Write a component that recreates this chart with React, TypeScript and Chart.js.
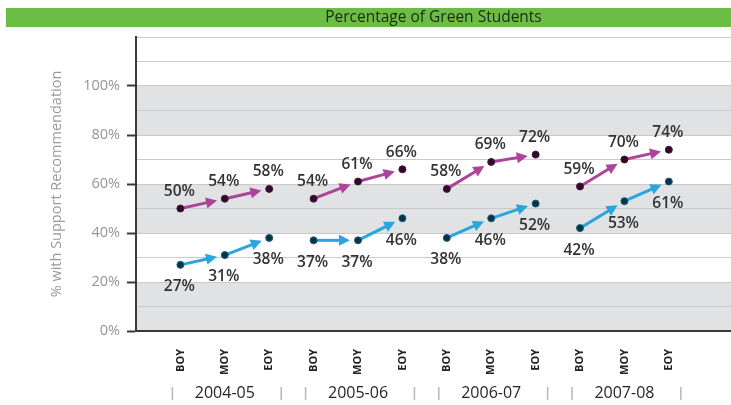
import React, { useEffect, useRef } from 'react';
import { Chart, registerables } from 'chart.js';

Chart.register(...registerables);

const chartTitle = 'Percentage of Green Students';
const yAxisTitle = '% with Support Recommendation';
const periods = ['BOY', 'MOY', 'EOY', 'BOY', 'MOY', 'EOY', 'BOY', 'MOY', 'EOY', 'BOY', 'MOY', 'EOY'];
const years = ['2004-05', '2005-06', '2006-07', '2007-08'];
const pinkValues = [50, 54, 58, 54, 61, 66, 58, 69, 72, 59, 70, 74];
const blueValues = [27, 31, 38, 37, 37, 46, 38, 46, 52, 42, 53, 61];
const yLabeledTicks = [0, 20, 40, 60, 80, 100];
const grayBands = [[0, 20], [40, 60], [80, 100]];

const PINK = '#ad4499';
const BLUE = '#29a6de';
const FONT = "'Open Sans', 'Noto Sans', sans-serif";

const backgroundPlugin = {
  id: 'bgBands',
  beforeDraw(chart: any) {
    const { ctx, chartArea, scales } = chart;
    ctx.save();
    ctx.fillStyle = '#ffffff';
    ctx.fillRect(0, 0, chart.width, chart.height);
    // title bar
    ctx.fillStyle = '#6bbd45';
    ctx.fillRect(6, 8, chart.width - 6, 19);
    ctx.fillStyle = '#1d2a19';
    ctx.font = `15.5px ${FONT}`;
    ctx.textAlign = 'center';
    ctx.textBaseline = 'middle';
    ctx.fillText(chartTitle, (chartArea.left + chartArea.right) / 2, 18);
    // bands
    const y = scales.y;
    ctx.fillStyle = '#e1e2e4';
    grayBands.forEach(([a, b]) => {
      const top = y.getPixelForValue(b);
      const bot = y.getPixelForValue(a);
      ctx.fillRect(chartArea.left, top, chartArea.right - chartArea.left, bot - top);
    });
    ctx.restore();
  },
};

const arrowPlugin = {
  id: 'arrows',
  beforeDatasetsDraw(chart: any) {
    const { ctx } = chart;
    chart.data.datasets.forEach((ds: any, di: number) => {
      const meta = chart.getDatasetMeta(di);
      const pts = meta.data;
      ctx.save();
      ctx.strokeStyle = ds.arrowColor;
      ctx.fillStyle = ds.arrowColor;
      ctx.lineWidth = 3;
      for (let i = 0; i < pts.length - 1; i++) {
        if (i % 3 === 2) continue;
        const p0 = pts[i];
        const p1 = pts[i + 1];
        const dx = p1.x - p0.x;
        const dy = p1.y - p0.y;
        const d = Math.hypot(dx, dy);
        const ux = dx / d;
        const uy = dy / d;
        const tipX = p1.x - ux * 8;
        const tipY = p1.y - uy * 8;
        const headLen = 11;
        const half = 5.5;
        const bx = tipX - ux * headLen;
        const by = tipY - uy * headLen;
        ctx.beginPath();
        ctx.moveTo(p0.x, p0.y);
        ctx.lineTo(bx + ux * 2, by + uy * 2);
        ctx.stroke();
        ctx.beginPath();
        ctx.moveTo(tipX, tipY);
        ctx.lineTo(bx - uy * half, by + ux * half);
        ctx.lineTo(bx + uy * half, by - ux * half);
        ctx.closePath();
        ctx.fill();
      }
      ctx.restore();
    });
  },
};

const labelPlugin = {
  id: 'valueLabels',
  afterDatasetsDraw(chart: any) {
    const { ctx } = chart;
    ctx.save();
    ctx.font = `600 15.5px ${FONT}`;
    ctx.fillStyle = '#333333';
    ctx.textAlign = 'center';
    ctx.textBaseline = 'middle';
    chart.data.datasets.forEach((ds: any, di: number) => {
      const meta = chart.getDatasetMeta(di);
      meta.data.forEach((p: any, i: number) => {
        const v = ds.data[i].y;
        const off = ds.labelBelow ? 22 : -17;
        ctx.fillText(`${v}%`, p.x - 1, p.y + off);
      });
    });
    ctx.restore();
  },
  afterDraw(chart: any) {
    const { ctx, scales } = chart;
    const x = scales.x;
    ctx.save();
    ctx.font = `500 16px ${FONT}`;
    ctx.fillStyle = '#262626';
    ctx.textAlign = 'center';
    ctx.textBaseline = 'middle';
    years.forEach((yr, g) => {
      const cx = x.getPixelForValue(g * 3 + 1);
      ctx.fillText(yr, cx, 393);
      const l = x.getPixelForValue(g * 3) - 8;
      const r = x.getPixelForValue(g * 3 + 2) + 12;
      ctx.strokeStyle = '#b8b8b8';
      ctx.lineWidth = 1.5;
      ctx.beginPath();
      ctx.moveTo(l, 387);
      ctx.lineTo(l, 400);
      ctx.moveTo(r, 387);
      ctx.lineTo(r, 400);
      ctx.stroke();
    });
    ctx.restore();
  },
};

export default function App() {
  const ref = useRef<HTMLCanvasElement | null>(null);

  useEffect(() => {
    if (!ref.current) return;
    const chart = new Chart(ref.current, {
      type: 'scatter',
      data: {
        datasets: [
          {
            label: 'Pink',
            data: pinkValues.map((v, i) => ({ x: i, y: v })),
            showLine: false,
            pointRadius: 3.5,
            pointBackgroundColor: '#2e0b26',
            pointBorderColor: '#4a1440',
            pointBorderWidth: 1,
            arrowColor: PINK,
            labelBelow: false,
          } as any,
          {
            label: 'Blue',
            data: blueValues.map((v, i) => ({ x: i, y: v })),
            showLine: false,
            pointRadius: 3.5,
            pointBackgroundColor: '#0b3346',
            pointBorderColor: '#17607e',
            pointBorderWidth: 1,
            arrowColor: BLUE,
            labelBelow: true,
          } as any,
        ],
      },
      options: {
        responsive: false,
        animation: false,
        layout: { padding: { top: 37, left: 0, right: 0, bottom: 0 }, autoPadding: false } as any,
        plugins: {
          legend: { display: false },
          tooltip: { enabled: false },
          title: { display: false },
        },
        scales: {
          x: {
            type: 'linear',
            min: -1,
            max: 12.4,
            afterFit(scale: any) {
              scale.height = 74;
            },
            ticks: {
              stepSize: 1,
              autoSkip: false,
              includeBounds: false,
              minRotation: 90,
              maxRotation: 90,
              padding: 10,
              color: '#222222',
              font: { family: FONT, size: 11, weight: 'bold' },
              callback: (v: any) => {
                const i = Number(v);
                if (Number.isInteger(i) && i >= 0 && i < periods.length) return periods[i];
                return null;
              },
            },
            grid: { display: false },
            border: { display: true, color: '#3a3a3a', width: 2 },
          },
          y: {
            min: 0,
            max: 120,
            afterFit(scale: any) {
              scale.width = 136;
            },
            ticks: {
              stepSize: 10,
              padding: 7,
              color: '#959595',
              font: { family: FONT, size: 14.5 },
              callback: (v: any) => (yLabeledTicks.includes(Number(v)) ? `${v}%` : ''),
            },
            grid: {
              color: '#c9cacc',
              lineWidth: 1,
              tickLength: 9,
              tickWidth: 2,
              tickColor: (c: any) =>
                c.tick && yLabeledTicks.includes(c.tick.value) ? '#3a3a3a' : 'rgba(0,0,0,0)',
            },
            border: { display: true, color: '#3a3a3a', width: 2 },
            title: {
              display: true,
              text: yAxisTitle,
              color: '#9a9a9a',
              font: { family: FONT, size: 14.5 },
              padding: { top: 48, bottom: 0 },
            },
          },
        },
      },
      plugins: [backgroundPlugin, arrowPlugin, labelPlugin],
    });
    return () => chart.destroy();
  }, []);

  return (
    <div style={{ position: 'absolute', left: 0, top: 0, width: 731, height: 405 }}>
      <canvas ref={ref} width={731} height={405} />
    </div>
  );
}
